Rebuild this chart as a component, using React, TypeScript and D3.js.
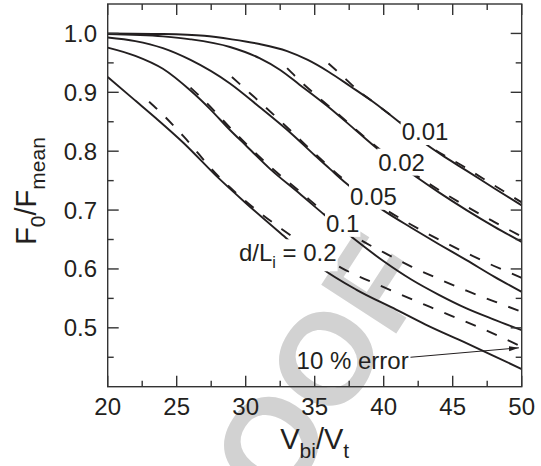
import React, { useEffect, useRef } from "react";
import * as d3 from "d3";

const W = 541;
const H = 466;

const xTicks = [20, 25, 30, 35, 40, 45, 50];
const xMinorTicks = [22.5, 27.5, 32.5, 37.5, 42.5, 47.5];
const yTicks = [0.5, 0.6, 0.7, 0.8, 0.9, 1.0];
const yMinorTicks = [0.45, 0.55, 0.65, 0.75, 0.85, 0.95];

// Exact solution (solid) for d/L_i = 0.01, 0.02, 0.05, 0.1, 0.2
const solid001: [number, number][] = [[20, 1.0], [24, 0.999], [27, 0.996], [29, 0.99], [31, 0.982], [33, 0.97], [34.5, 0.955], [36, 0.935], [37.6, 0.91], [39.1, 0.886], [41.3, 0.846], [43, 0.813], [44.5, 0.789], [46, 0.767], [48, 0.737], [50, 0.708]];
const solid002: [number, number][] = [[20, 0.999], [24, 0.995], [26, 0.99], [28.86, 0.977], [31, 0.958], [32.5, 0.938], [33.9, 0.913], [36, 0.875], [38, 0.835], [39.5, 0.805], [42.5, 0.754], [44, 0.73], [46, 0.7], [48, 0.672], [50, 0.646]];
const solid005: [number, number][] = [[20, 0.993], [22, 0.987], [24, 0.975], [26, 0.955], [28.86, 0.915], [31, 0.875], [33.3, 0.83], [35, 0.793], [36.1, 0.77], [37.1, 0.749], [40, 0.699], [42, 0.67], [44, 0.642], [46, 0.615], [48, 0.587], [50, 0.561]];
const solid01: [number, number][] = [[20, 0.976], [22, 0.962], [24, 0.94], [26, 0.903], [27.4, 0.872], [28.86, 0.836], [30, 0.81], [31.76, 0.77], [33.9, 0.728], [35.7, 0.692], [37.8, 0.652], [40, 0.613], [42, 0.582], [44, 0.556], [46, 0.533], [48, 0.514], [50, 0.496]];
const solid02: [number, number][] = [[20, 0.926], [22, 0.886], [23.5, 0.856], [25.5, 0.814], [28, 0.755], [30, 0.712], [32.9, 0.653], [35.4, 0.603], [38, 0.565], [40.9, 0.531], [43, 0.506], [45.8, 0.476], [48, 0.452], [50, 0.43]];

// Approximation (dashed)
const dash001: [number, number][] = [[36.0, 0.949], [37, 0.928], [38, 0.906], [39.1, 0.886], [41.3, 0.847], [43, 0.814], [46, 0.771], [48, 0.742], [50, 0.713]];
const dash002: [number, number][] = [[33.0, 0.941], [34, 0.918], [35, 0.897], [36.8, 0.861], [39.5, 0.807], [42.5, 0.757], [46, 0.706], [48, 0.68], [50, 0.655]];
const dash005: [number, number][] = [[29.0, 0.926], [30, 0.905], [31, 0.884], [33.3, 0.834], [35, 0.796], [37.1, 0.752], [40, 0.703], [42, 0.675], [44, 0.65], [46, 0.627], [48, 0.605], [50, 0.585]];
const dash01: [number, number][] = [[26.0, 0.908], [27, 0.886], [28.86, 0.84], [30, 0.813], [31.76, 0.774], [33.9, 0.732], [35.7, 0.696], [38, 0.654], [40, 0.628], [42, 0.604], [44, 0.583], [46, 0.563], [48, 0.545], [50, 0.527]];
const dash02: [number, number][] = [[23.0, 0.884], [24, 0.862], [25.5, 0.825], [28, 0.758], [30, 0.715], [32.6, 0.668], [37, 0.601], [40, 0.569], [43.4, 0.535], [47, 0.5], [50, 0.468]];

const solidSeries = [solid001, solid002, solid005, solid01, solid02];
const dashSeries = [dash001, dash002, dash005, dash01, dash02];

// curve labels: text, anchor position (data coords of text start / baseline)
const curveLabelText = ["0.01", "0.02", "0.05", "0.1"];
const curveLabelV = [41.3, 39.6, 37.56, 35.82];
const curveLabelF = [0.819, 0.767, 0.709, 0.663];
const mainLabelPos: [number, number] = [29.51, 0.613];
const errorLabelPos: [number, number] = [33.69, 0.43];
const arrowFrom: [number, number] = [41.94, 0.45];
const arrowTo: [number, number] = [49.8, 0.466];

const FONT = "'Liberation Sans', Arial, Helvetica, sans-serif";
const INK = "#231f20";

export default function App() {
  const ref = useRef<SVGSVGElement | null>(null);

  useEffect(() => {
    const svg = d3.select(ref.current);
    svg.selectAll("*").remove();

    const left = 107.7, right = 521.7, top = 4, bottom = 386.7;
    const x = d3.scaleLinear().domain([20, 50]).range([left, right]);
    const y = d3.scaleLinear().domain([0.4, 1.05]).range([bottom, top]);

    svg.append("rect").attr("width", W).attr("height", H).attr("fill", "#fff");

    // watermark
    svg.append("text")
      .attr("transform", "translate(309,468) rotate(-57)")
      .attr("text-anchor", "middle")
      .attr("font-family", FONT)
      .attr("font-weight", "bold")
      .attr("font-size", 130)
      .attr("fill", "#d2d2d2")
      .text("PROOF");

    const line = d3.line<[number, number]>()
      .x((d) => x(d[0]))
      .y((d) => y(d[1]))
      .curve(d3.curveMonotoneX);

    const curves = svg.append("g");
    solidSeries.forEach((s) => {
      curves.append("path").attr("d", line(s) as string)
        .attr("fill", "none").attr("stroke", INK).attr("stroke-width", 1.9);
    });
    dashSeries.forEach((s) => {
      curves.append("path").attr("d", line(s) as string)
        .attr("fill", "none").attr("stroke", INK).attr("stroke-width", 1.9)
        .attr("stroke-dasharray", "11,12");
    });

    // labels with white background
    const addBox = (g: any, t: any) => {
      const bb = (t.node() as SVGTextElement).getBBox();
      g.insert("rect", "text")
        .attr("x", bb.x - 1).attr("y", bb.y).attr("width", bb.width + 2).attr("height", bb.height)
        .attr("fill", "#fff");
    };

    curveLabelText.forEach((txt, i) => {
      const g = svg.append("g");
      const t = g.append("text")
        .attr("x", x(curveLabelV[i])).attr("y", y(curveLabelF[i]))
        .attr("font-family", FONT).attr("font-size", 24).attr("fill", INK)
        .text(txt);
      addBox(g, t);
    });

    {
      const g = svg.append("g");
      const t = g.append("text")
        .attr("x", x(mainLabelPos[0])).attr("y", y(mainLabelPos[1]))
        .attr("font-family", FONT).attr("font-size", 24).attr("fill", INK);
      t.append("tspan").text("d/L");
      t.append("tspan").attr("font-size", 16).attr("dy", 7).text("i");
      t.append("tspan").attr("dy", -7).text(" = 0.2");
      addBox(g, t);
    }

    // 10 % error + arrow
    svg.append("text")
      .attr("x", x(errorLabelPos[0])).attr("y", y(errorLabelPos[1]))
      .attr("font-family", FONT).attr("font-size", 24).attr("fill", INK)
      .text("10 % error");

    const defs = svg.append("defs");
    defs.append("marker").attr("id", "arrowHead")
      .attr("markerUnits", "userSpaceOnUse")
      .attr("markerWidth", 11).attr("markerHeight", 6)
      .attr("refX", 10).attr("refY", 2.5).attr("orient", "auto")
      .append("path").attr("d", "M0,0 L10,2.5 L0,5 Z").attr("fill", INK);
    svg.append("line")
      .attr("x1", x(arrowFrom[0])).attr("y1", y(arrowFrom[1]))
      .attr("x2", x(arrowTo[0])).attr("y2", y(arrowTo[1]))
      .attr("stroke", INK).attr("stroke-width", 1)
      .attr("marker-end", "url(#arrowHead)");

    // frame and ticks
    const axis = svg.append("g").attr("stroke", "#333").attr("stroke-width", 1.4);
    const major = 11, minor = 6;
    xTicks.forEach((v) => {
      axis.append("line").attr("x1", x(v)).attr("x2", x(v)).attr("y1", bottom).attr("y2", bottom - major);
      axis.append("line").attr("x1", x(v)).attr("x2", x(v)).attr("y1", top).attr("y2", top + major);
    });
    xMinorTicks.forEach((v) => {
      axis.append("line").attr("x1", x(v)).attr("x2", x(v)).attr("y1", bottom).attr("y2", bottom - minor);
      axis.append("line").attr("x1", x(v)).attr("x2", x(v)).attr("y1", top).attr("y2", top + minor);
    });
    yTicks.forEach((v) => {
      axis.append("line").attr("y1", y(v)).attr("y2", y(v)).attr("x1", left).attr("x2", left + major);
      axis.append("line").attr("y1", y(v)).attr("y2", y(v)).attr("x1", right).attr("x2", right - major);
    });
    yMinorTicks.forEach((v) => {
      axis.append("line").attr("y1", y(v)).attr("y2", y(v)).attr("x1", left).attr("x2", left + minor);
      axis.append("line").attr("y1", y(v)).attr("y2", y(v)).attr("x1", right).attr("x2", right - minor);
    });
    axis.append("rect").attr("x", left).attr("y", top).attr("width", right - left).attr("height", bottom - top)
      .attr("fill", "none");

    // tick labels
    xTicks.forEach((v) => {
      svg.append("text").attr("x", x(v)).attr("y", 415)
        .attr("text-anchor", "middle").attr("font-family", FONT).attr("font-size", 24).attr("fill", INK)
        .text(String(v));
    });
    yTicks.forEach((v) => {
      svg.append("text").attr("x", 97).attr("y", y(v) + 8.5)
        .attr("text-anchor", "end").attr("font-family", FONT).attr("font-size", 24).attr("fill", INK)
        .text(v.toFixed(1));
    });

    // axis titles
    {
      const t = svg.append("text").attr("x", (left + right) / 2).attr("y", 449)
        .attr("text-anchor", "middle").attr("font-family", FONT).attr("font-size", 29).attr("fill", INK);
      t.append("tspan").text("V");
      t.append("tspan").attr("font-size", 21).attr("dy", 9).text("bi");
      t.append("tspan").attr("dy", -9).text("/V");
      t.append("tspan").attr("font-size", 21).attr("dy", 9).text("t");
    }
    {
      const t = svg.append("text").attr("transform", "translate(36,191) rotate(-90)")
        .attr("text-anchor", "middle").attr("font-family", FONT).attr("font-size", 29).attr("fill", INK);
      t.append("tspan").text("F");
      t.append("tspan").attr("font-size", 21).attr("dy", 9).text("0");
      t.append("tspan").attr("dy", -9).text("/F");
      t.append("tspan").attr("font-size", 21).attr("dy", 9).text("mean");
    }
  }, []);

  return (
    <div style={{ position: "fixed", left: 0, top: 0, width: W, height: H, background: "#fff" }}>
      <svg ref={ref} width={W} height={H} viewBox={`0 0 ${W} ${H}`} style={{ display: "block" }} />
    </div>
  );
}
